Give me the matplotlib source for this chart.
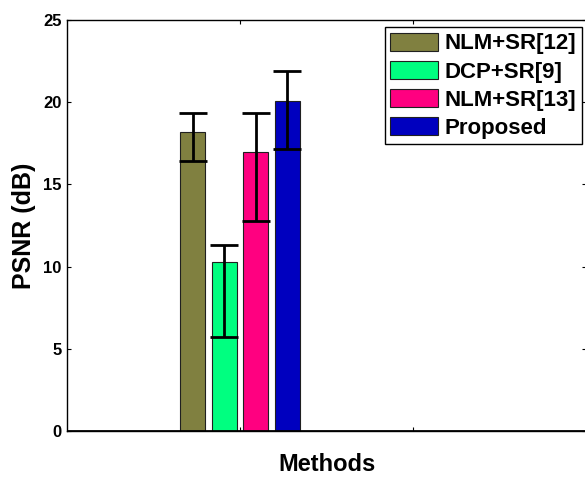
import matplotlib
matplotlib.use("Agg")
import matplotlib.pyplot as plt
import numpy as np

methods = ["NLM+SR[12]", "DCP+SR[9]", "NLM+SR[13]", "Proposed"]
psnr = [18.2, 10.25, 17.0, 20.1]
err_upper = [19.35, 11.3, 19.35, 21.9]
err_lower = [16.4, 5.7, 12.8, 17.15]
colors = ["#808040", "#00FF80", "#FF0080", "#0000BF"]
yticks = [0, 5, 10, 15, 20, 25]

plt.rcParams['font.family'] = ['Liberation Sans', 'DejaVu Sans']
plt.rcParams['font.weight'] = 'bold'

fig = plt.figure(figsize=(5.85, 4.78), dpi=100)
ax = fig.add_axes([67/585, 47/478, 519/585, 411/478])

group_x = 1.0
spacing = 0.182
width = 0.146
n = len(methods)
for i, (m, v, up, lo, c) in enumerate(zip(methods, psnr, err_upper, err_lower, colors)):
    x = group_x + (i - (n - 1) / 2) * spacing
    ax.bar(x, v, width=width, color=c, edgecolor='#202020', linewidth=0.8, label=m, zorder=2)
    ax.errorbar(x, v, yerr=[[v - lo], [up - v]], fmt='none', ecolor='black',
                elinewidth=2, capsize=10, capthick=2, zorder=3)

ax.axhline(0, color='black', linewidth=2, zorder=4)
ax.set_xlim(0, 3)
ax.set_ylim(0, 25)
ax.set_yticks(yticks)
ax.set_yticklabels([str(t) for t in yticks], fontsize=12, fontweight='bold')
ax.set_xticks([1, 2, 3])
ax.set_xticklabels([])
ax.tick_params(direction='in', length=3, width=0.8, top=True, right=True, pad=4)
for s in ax.spines.values():
    s.set_linewidth(1)

ax.set_ylabel("PSNR (dB)", fontsize=18, fontweight='bold', labelpad=5)
ax.set_xlabel("Methods", fontsize=17, fontweight='bold', labelpad=12)

leg = ax.legend(loc='upper right', bbox_to_anchor=(582/585, 1 - 27/478), bbox_transform=fig.transFigure,
                prop={'weight': 'bold', 'size': 16}, fancybox=False, edgecolor='black',
                framealpha=1, handlelength=2.15, handleheight=0.9, handletextpad=0.3,
                labelspacing=0.28, borderpad=0.25, borderaxespad=0)
leg.get_frame().set_linewidth(1)
for h in leg.legend_handles:
    h.set_edgecolor('#202020')

fig.savefig("out.png", dpi=100)
